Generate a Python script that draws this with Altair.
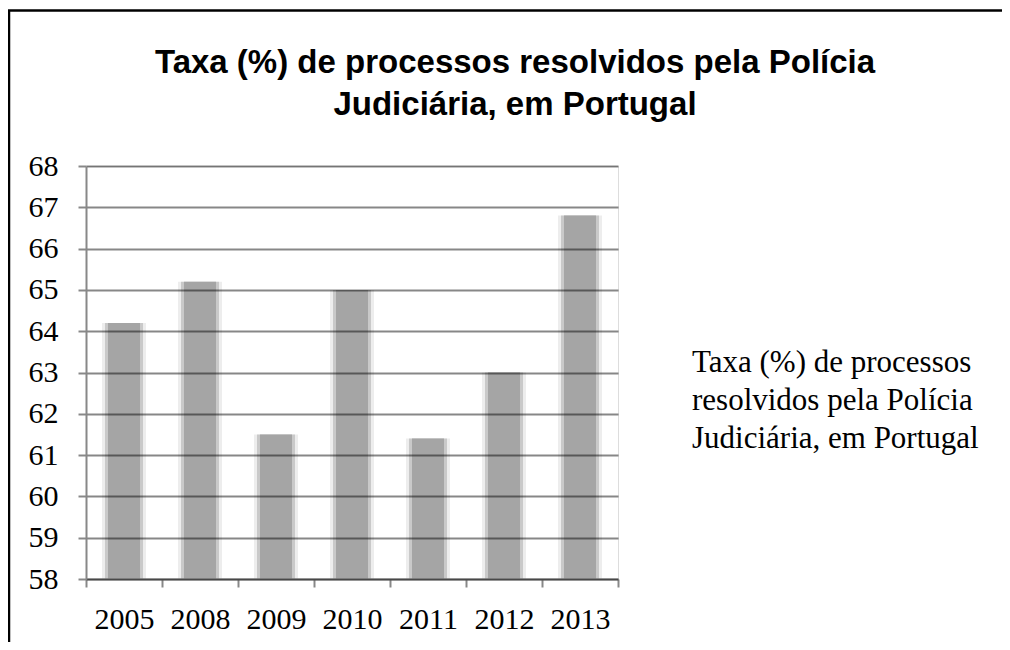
import altair as alt
import pandas as pd

years = ["2005", "2008", "2009", "2010", "2011", "2012", "2013"]
values = [64.2, 65.2, 61.5, 65.0, 61.4, 63.0, 66.8]
legend_lines = ["Taxa (%) de processos", "resolvidos pela Polícia", "Judiciária, em Portugal"]
title_lines = ["Taxa (%) de processos resolvidos pela Polícia", "Judiciária, em Portugal"]
y_ticks = [58, 59, 60, 61, 62, 63, 64, 65, 66, 67, 68]

df = pd.DataFrame({"ano": years, "taxa": values})

W, H = 532, 413
SERIF = "Liberation Serif, 'Times New Roman', Times, 'DejaVu Serif', serif"

x_enc = alt.X("ano:N", sort=years, title=None,
              scale=alt.Scale(paddingInner=0, paddingOuter=0),
              axis=alt.Axis(labelAngle=0, tickBand="extent", grid=False,
                            labelFont=SERIF, labelFontSize=30,
                            labelColor="black", labelPadding=17,
                            tickSize=8, tickWidth=2, tickColor="#888888",
                            domainColor="#888888", domainWidth=2))
y_enc = alt.Y("taxa:Q", title=None,
              scale=alt.Scale(domain=[58, 68], zero=False, nice=False),
              axis=alt.Axis(values=y_ticks, grid=True, gridColor="black",
                            gridOpacity=0.47, gridWidth=2, zindex=1,
                            labelFont=SERIF, labelFontSize=30,
                            labelColor="black", labelPadding=20,
                            tickSize=8, tickWidth=2, tickColor="#888888",
                            domainColor="#888888", domainWidth=2))

base = alt.Chart(df)
outer = base.mark_bar(size=44, opacity=0.2, color="#a5a5a5").encode(x=x_enc, y=y_enc, y2=alt.datum(58))
mid = base.mark_bar(size=38, opacity=0.5, color="#a5a5a5").encode(x=x_enc, y=y_enc, y2=alt.datum(58))
inner = base.mark_bar(size=32, opacity=1, color="#a5a5a5").encode(x=x_enc, y=y_enc, y2=alt.datum(58))

one = alt.Data(values=[{"k": 1}])
legend_text = alt.Chart(one).mark_text(
    align="left", baseline="alphabetic", font=SERIF, fontSize=31,
    color="black", lineHeight=38, text=legend_lines,
).encode(x=alt.value(W + 74), y=alt.value(206))

left_line = alt.Chart(one).mark_rule(color="black", strokeWidth=2.5).encode(
    x=alt.value(-77), y=alt.value(-156), y2=alt.value(H + 70))
top_line = alt.Chart(one).mark_rule(color="black", strokeWidth=2.5).encode(
    x=alt.value(-78), x2=alt.value(W + 400), y=alt.value(-155.5))

chart = alt.layer(outer, mid, inner, legend_text, left_line, top_line).properties(
    width=W, height=H,
    title=alt.TitleParams(title_lines, anchor="middle", frame="group", dx=163,
                          dy=113, offset=0,
                          font="Liberation Sans", fontSize=33, fontWeight="bold",
                          color="black", lineHeight=42),
    autosize=alt.AutoSizeParams(type="none"),
    padding={"left": 78, "top": 158, "right": 384, "bottom": 63},
).configure_view(stroke=None).configure(background="white")

chart.save("out.html", embed_options={"renderer": "svg", "actions": False})
